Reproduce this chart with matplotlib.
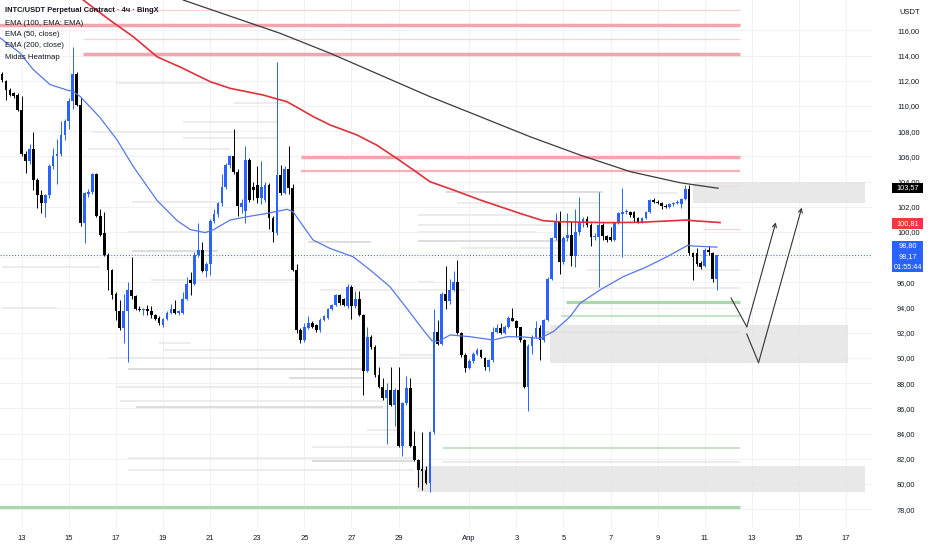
import matplotlib
matplotlib.use('Agg')
import numpy as np
import matplotlib.pyplot as plt
import matplotlib.transforms as mtransforms
from matplotlib.patches import Rectangle

# 4h candles, index 0 = 12 Mar 04:00
opens = [112.5, 112.0, 111.3, 111.0, 110.9, 109.7, 106.2, 105.6, 106.6, 104.1,
         102.9, 102.3, 102.9, 105.2, 106.0, 106.2, 107.7, 108.8, 110.4, 112.5,
         110.1, 100.7, 103.0, 103.2, 104.6, 101.3, 99.9, 98.2, 97.0, 95.1,
         93.75, 92.35, 93.75, 95.4, 94.9, 93.9, 93.8, 93.9, 93.7, 93.4,
         93.2, 92.6, 93.1, 93.6, 93.9, 93.6, 93.6, 94.7, 96.2, 95.9,
         98.2, 98.6, 96.9, 97.5, 100.9, 101.4, 102.3, 103.6, 105.3, 106.0,
         104.8, 102.0, 101.7, 105.7, 103.6, 103.7, 102.7, 102.5, 103.7, 101.1,
         99.9, 104.5, 103.1, 105.0, 103.5, 97.0, 92.2, 91.4, 92.35, 92.75,
         92.6, 92.2, 93.05, 93.15, 93.85, 94.2, 95.0, 94.7, 94.1, 95.65,
         94.1, 94.7, 93.4, 89.0, 91.7, 90.85, 88.65, 87.7, 86.8, 87.5,
         86.3, 87.5, 83.0, 86.4, 87.6, 83.0, 81.9, 81.2, 81.1, 80.05,
         84.1, 92.1, 91.1, 95.05, 94.5, 95.4, 96.05, 91.95, 90.25, 89.2,
         89.75, 90.35, 90.6, 90.0, 89.3, 89.85, 92.1, 92.35, 92.0, 92.5,
         93.2, 92.95, 92.45, 91.4, 87.7, 90.95, 91.7, 92.4, 91.45, 93.0,
         96.3, 99.5, 100.8, 97.65, 99.5, 99.75, 98.1, 100.0, 100.8, 101.0,
         100.55, 99.6, 99.6, 100.55, 99.7, 99.6, 99.4, 100.7, 101.4, 101.55,
         101.6, 101.6, 101.1, 100.8, 101.1, 101.6, 102.55, 102.4, 102.3, 102.1,
         102.0, 102.2, 102.3, 102.2, 102.6, 103.4, 98.3, 98.3, 97.5, 97.3,
         98.6, 98.3, 96.3]
highs = [112.7, 112.1, 111.4, 111.1, 111.0, 110.8, 106.4, 107.0, 107.9, 104.3,
         103.3, 103.0, 105.4, 106.7, 107.4, 108.8, 109.0, 110.6, 114.7, 112.7,
         110.6, 103.2, 103.4, 104.7, 104.7, 101.8, 101.6, 98.3, 97.1, 95.2,
         94.6, 95.1, 96.0, 98.0, 95.0, 94.1, 94.0, 94.2, 94.1, 93.5,
         93.3, 93.2, 93.7, 94.3, 94.6, 93.8, 95.2, 96.4, 96.8, 98.4,
         100.7, 99.2, 97.6, 101.0, 101.8, 102.4, 104.6, 105.5, 106.1, 108.2,
         105.0, 102.6, 106.8, 105.9, 104.0, 105.2, 105.6, 104.0, 103.9, 101.3,
         113.5, 105.3, 105.2, 106.8, 103.8, 97.5, 92.4, 92.75, 93.3, 92.9,
         92.7, 93.2, 93.4, 93.95, 94.3, 95.1, 95.1, 94.8, 95.9, 95.8,
         95.3, 95.3, 93.5, 92.5, 91.8, 91.0, 89.3, 88.4, 88.0, 89.3,
         87.6, 89.3, 86.5, 88.6, 88.4, 84.2, 82.0, 84.1, 81.4, 84.2,
         93.9, 93.0, 95.2, 97.3, 96.3, 96.9, 97.8, 92.1, 90.4, 89.9,
         90.5, 90.8, 90.7, 90.1, 89.95, 92.5, 92.7, 92.75, 92.6, 93.3,
         94.0, 93.0, 92.5, 91.5, 91.1, 91.8, 92.9, 92.6, 93.1, 96.4,
         99.6, 101.5, 101.7, 99.7, 101.5, 100.9, 101.8, 102.8, 101.2, 101.3,
         100.7, 99.9, 103.2, 100.7, 99.8, 100.4, 100.8, 101.6, 103.5, 101.8,
         101.7, 101.7, 101.2, 101.2, 101.7, 102.6, 102.7, 102.5, 102.35, 102.2,
         102.3, 102.4, 102.5, 102.7, 103.75, 103.7, 98.4, 98.7, 97.7, 98.7,
         98.9, 98.4, 98.2]
lows = [111.9, 110.5, 110.8, 110.6, 109.6, 106.0, 104.7, 105.4, 103.3, 101.9,
        101.5, 101.2, 102.7, 105.0, 103.8, 106.0, 107.3, 108.2, 109.8, 110.0,
        100.5, 99.15, 102.8, 103.0, 101.2, 99.7, 98.1, 95.4, 94.7, 93.0,
        92.2, 91.2, 89.7, 94.7, 93.8, 93.7, 93.4, 93.4, 93.2, 93.0,
        92.6, 92.5, 93.0, 93.5, 93.5, 93.4, 93.5, 94.6, 95.0, 95.8,
        98.0, 96.8, 96.4, 96.6, 100.7, 101.2, 102.1, 103.4, 105.1, 104.6,
        101.3, 101.5, 100.7, 102.4, 102.5, 102.3, 102.2, 102.4, 100.2, 99.2,
        99.8, 102.9, 103.0, 103.0, 96.9, 92.0, 91.2, 91.3, 92.3, 92.4,
        92.1, 92.1, 92.9, 93.1, 93.8, 94.1, 94.2, 94.1, 94.0, 93.1,
        94.0, 93.3, 87.1, 88.9, 90.7, 88.5, 87.6, 86.7, 83.2, 86.2,
        84.6, 82.9, 82.2, 86.3, 82.9, 81.8, 79.8, 79.5, 80.0, 79.4,
        84.0, 91.0, 91.0, 93.9, 94.3, 95.3, 91.9, 90.1, 88.9, 89.1,
        89.6, 90.2, 90.0, 89.05, 89.0, 89.7, 92.0, 91.9, 91.9, 92.4,
        92.9, 91.7, 91.3, 87.6, 85.8, 90.3, 91.6, 89.85, 91.3, 92.9,
        96.2, 99.4, 96.7, 97.5, 99.3, 97.3, 97.25, 99.8, 100.4, 100.4,
        98.9, 99.4, 95.65, 99.4, 99.2, 99.3, 99.3, 100.6, 98.0, 101.4,
        101.2, 100.8, 100.7, 100.7, 101.0, 101.5, 102.3, 102.2, 101.8, 101.9,
        101.9, 102.1, 102.2, 101.9, 102.5, 98.2, 96.2, 97.3, 97.1, 97.2,
        98.2, 96.0, 95.4]
closes = [112.1, 111.3, 110.9, 110.8, 109.7, 106.2, 105.6, 106.6, 104.1, 102.9,
          102.3, 102.9, 105.2, 106.0, 106.2, 107.7, 108.8, 110.4, 112.5, 110.1,
          100.7, 103.1, 103.2, 104.6, 101.3, 99.8, 98.2, 97.0, 95.0, 93.75,
          92.35, 93.75, 95.4, 94.9, 93.9, 93.8, 93.9, 93.7, 93.4, 93.1,
          92.8, 93.1, 93.6, 93.9, 93.6, 93.7, 94.7, 95.9, 95.95, 98.2,
          98.6, 96.9, 97.5, 100.9, 101.4, 102.3, 103.6, 105.3, 106.0, 104.8,
          102.1, 102.3, 105.7, 102.5, 103.3, 102.7, 103.6, 103.7, 101.1, 100.0,
          104.5, 103.1, 105.0, 103.5, 97.0, 92.2, 91.4, 92.5, 92.75, 92.5,
          92.2, 93.05, 93.3, 93.85, 94.2, 95.0, 94.35, 94.2, 95.65, 94.1,
          94.7, 93.4, 89.0, 91.7, 90.85, 88.65, 87.7, 86.8, 87.5, 86.3,
          87.5, 83.0, 86.4, 87.6, 83.0, 81.9, 81.1, 81.05, 80.05, 84.1,
          92.1, 91.1, 95.05, 94.5, 95.4, 96.05, 91.95, 90.25, 89.2, 89.75,
          90.35, 90.6, 90.1, 89.3, 89.85, 92.1, 92.35, 92.0, 92.5, 93.2,
          92.95, 92.4, 91.4, 87.7, 90.95, 91.7, 92.4, 91.45, 93.0, 96.3,
          99.5, 100.8, 97.65, 99.5, 99.75, 98.1, 100.0, 100.8, 101.0, 100.55,
          99.6, 99.7, 100.55, 99.7, 99.4, 99.4, 100.7, 101.5, 101.6, 101.65,
          101.35, 101.1, 100.8, 101.1, 101.6, 102.5, 102.4, 102.3, 102.05, 102.0,
          102.2, 102.3, 102.4, 102.6, 103.4, 98.3, 98.05, 97.5, 97.25, 98.55,
          98.4, 96.3, 98.17]

# EMA lines (candle index, price)
ema50_idx = [-0.5, 4.6, 7.9, 12.2, 16.5, 18.1, 19.9, 24.9, 29.3, 33.4, 39.5, 44.6,
             47.9, 51.7, 53.7, 58.1, 62.4, 67.5, 72.6, 74.1, 79.2, 83.5, 89.4, 93.7,
             98.8, 103.1, 107.3, 109.5, 111.1, 114.1, 119.2, 125.1, 128.6, 131.9,
             137.0, 140.4, 144.7, 147.2, 152.3, 158.2, 164.3, 169.4, 174.8, 175.8, 182.1]
ema50_val = [115.4, 114.2, 112.9, 111.7, 111.27, 111.15, 110.75, 109.1, 107.3, 105.2,
             102.5, 100.9, 100.2, 99.95, 100.16, 100.95, 101.21, 101.48, 101.8, 101.61,
             99.37, 98.7, 98.04, 97.0, 95.66, 93.94, 92.22, 91.37, 91.3, 91.83, 91.69,
             91.43, 91.69, 91.69, 91.56, 92.09, 93.28, 94.34, 95.4, 96.45, 97.25, 98.04,
             98.97, 98.89, 98.8]
ema100_idx = [20.7, 27.5, 33.4, 39.5, 45.3, 53.0, 58.1, 66.5, 70.0, 72.6, 79.3, 83.6,
              90.4, 95.4, 100.5, 104.8, 109.0, 115.0, 121.8, 131.9, 137.8, 141.4,
              154.1, 162.5, 174.5, 175.8, 182.9]
ema100_val = [118.4, 116.8, 115.5, 113.9, 113.1, 111.93, 111.4, 110.87, 110.56, 110.34,
              109.15, 108.49, 107.7, 106.9, 105.85, 104.92, 103.99, 103.33, 102.54,
              101.48, 100.9, 100.82, 100.74, 100.77, 100.95, 100.9, 100.75]
ema200_idx = [46.2, 70.8, 83.6, 96.3, 109.0, 121.8, 134.5, 147.2, 160.0, 172.7, 182.4]
ema200_val = [118.4, 115.77, 114.18, 112.46, 110.74, 109.15, 107.56, 106.11, 104.79,
              103.91, 103.47]

# Midas heatmap: gray levels (price, from, to, strength)
hm_price = [111.85, 107.96, 106.56, 110.21, 108.76, 107.43, 102.4, 100.03, 98.52, 99.23,
            97.25, 96.19, 95.4, 93.94, 91.17, 90.63, 89.97, 90.24, 89.1, 88.39,
            87.67, 86.61, 86.14, 84.29, 82.96, 82.09, 81.85, 81.11, 103.2, 102.33,
            101.35, 100.56, 100.03, 99.31, 98.7, 96.98, 95.56, 96.06, 87.99, 92.09,
            81.72, 103.1]
hm_start = [29, 23, 22, 59, 46, 46, 33, 32, 33, 78,
            0, 38, 81, 0, 40, 41, 27, 101, 32, 73,
            29, 30, 34, 93, 79, 32, 79, 32, 113, 116,
            106, 106, 106, 106, 117, 149, 142, 106, 119, 137,
            112, 165]
hm_end = [56, 60, 58, 73, 70, 70, 56, 70, 55, 94,
          25, 76, 118, 14, 48, 92, 110, 110, 92, 92,
          92, 97, 97, 101, 105, 105, 105, 105, 153, 152,
          133, 149, 136, 144, 142, 188, 188, 110, 133, 188,
          188, 172]
hm_strength = [1, 1, 1, 1, 1, 1, 1, 1, 2, 2,
               1, 1, 1, 1, 1, 1, 1, 1, 2, 2,
               1, 1, 2, 1, 1, 1, 2, 1, 2, 1,
               1, 1, 1, 2, 1, 1, 1, 1, 1, 2,
               1, 1]

red_price = [117.62, 116.43, 115.29, 114.13, 105.98, 104.84, 103.67, 100.24]
red_start = [20.6, -1, 20.6, 20.6, 76.1, 76.1, 176, 178.6]
red_end = [188, 188, 188, 188, 188, 188, 188, 188]
red_weight = [1, 3, 1, 3, 3, 2, 1, 1]

green_price = [94.42, 93.33, 82.83, 78.15]
green_start = [143.7, 142.3, 112.3, -1]
green_end = [188, 188, 188, 188]
green_weight = [3, 2, 2, 3]

box_top = [104.0, 92.6, 81.43]
box_bottom = [102.28, 89.63, 79.39]
box_start = [176, 139.6, 105.6]
box_end = [219.9, 215.5, 219.9]

# hand-drawn projection paths
path_a_x = [185.7, 189.7, 197.1]
path_a_y = [94.76, 92.48, 100.77]
path_b_x = [189.7, 192.7, 203.7]
path_b_y = [91.9, 89.63, 101.93]

date_idx = [5, 17, 29, 41, 53, 65, 77, 89, 101, 119, 131, 143, 155, 167, 179, 191, 203, 215]
date_lbl = ['13', '15', '17', '19', '21', '23', '25', '27', '29', 'Апр',
            '3', '5', '7', '9', '11', '13', '15', '17']
price_ticks = list(range(78, 118, 2))

label_vals = [103.57, 100.81, 98.80, 98.17]
label_cols = ['#000000', '#f23645', '#2962ff', '#2962ff']
countdown = '01:55:44'

plt.rcParams['font.family'] = ['Liberation Sans', 'DejaVu Sans']

fig = plt.figure(figsize=(9.32, 5.5), dpi=100)
ax = fig.add_axes([0, 23 / 550, 872 / 932, 527 / 550])
ax.set_xlim(-0.53, 221.6)
ax.set_ylim(76.59, 118.41)
for s in ax.spines.values():
    s.set_visible(False)

grid_c = '#f0f2f5'
for v in price_ticks:
    ax.axhline(v, color=grid_c, lw=0.8, zorder=0)
for v in date_idx:
    ax.axvline(v, color=grid_c, lw=0.8, zorder=0)

# heatmap
hm_cols = {1: '#ebebeb', 2: '#dadada'}
for p, a, b, s in zip(hm_price, hm_start, hm_end, hm_strength):
    ax.hlines(p, a, b, color=hm_cols[s], lw=1.3, zorder=1)

red_style = {1: ('#f9d2d6', 0.9), 2: ('#f5b2b9', 1.7), 3: ('#f3a5ae', 2.5)}
for p, a, b, w in zip(red_price, red_start, red_end, red_weight):
    c, lw = red_style[w]
    ax.hlines(p, a, b, color=c, lw=lw, zorder=1.2)

green_style = {2: ('#c3e4c4', 1.5), 3: ('#a9d8ab', 2.3)}
for p, a, b, w in zip(green_price, green_start, green_end, green_weight):
    c, lw = green_style[w]
    ax.hlines(p, a, b, color=c, lw=lw, zorder=1.2)

for t, bt, a, b in zip(box_top, box_bottom, box_start, box_end):
    ax.add_patch(Rectangle((a, bt), b - a, t - bt, facecolor='#e3e3e3', alpha=0.8,
                           edgecolor='none', zorder=1.5))

# last price dotted line
ax.axhline(label_vals[3], color='#2962ff', lw=0.7, ls=(0, (1, 2)), zorder=3)

# candles
o = np.array(opens)
h = np.array(highs)
l = np.array(lows)
c = np.array(closes)
idx = np.arange(len(c))
cols = np.where(c >= o, '#2962ff', '#000000')
ax.vlines(idx, l, h, colors=cols, lw=0.7, zorder=4)
ax.bar(idx, np.maximum(np.abs(c - o), 0.07), bottom=np.minimum(o, c), width=0.7,
       color=cols, lw=0, zorder=5)

ax.plot(ema200_idx, ema200_val, color='#3a3a3a', lw=0.9, zorder=6)
ax.plot(ema100_idx, ema100_val, color='#e0303a', lw=1.2, zorder=6)
ax.plot(ema50_idx, ema50_val, color='#5577e8', lw=0.9, zorder=6)

for px, py in ((path_a_x, path_a_y), (path_b_x, path_b_y)):
    ax.plot(px[:2], py[:2], color='#333333', lw=0.8, zorder=7)
    ax.annotate('', xy=(px[2], py[2]), xytext=(px[1], py[1]),
                arrowprops=dict(arrowstyle='->', color='#333333', lw=0.8,
                                shrinkA=0, shrinkB=0, mutation_scale=7), zorder=7)

ax.set_xticks(date_idx)
ax.set_xticklabels(date_lbl)
ax.yaxis.tick_right()
ax.set_yticks(price_ticks)
ax.set_yticklabels([f'{v:.2f}'.replace('.', ',') for v in price_ticks])
ax.tick_params(axis='x', length=0, pad=6, labelsize=5.5, labelcolor='#131722')
ax.tick_params(axis='y', length=0, pad=18, labelsize=5.3, labelcolor='#131722')

# price labels on the scale (stacked like the price scale does)
trans = mtransforms.blended_transform_factory(fig.transFigure, ax.transData)
x0, x1 = 892 / 932, 923 / 932
label_pos = [label_vals[0] - 0.08, label_vals[1] - 0.15, label_vals[2] + 0.1,
             label_vals[3] - 0.13, label_vals[3] - 0.95]
label_txt = [f'{v:.2f}'.replace('.', ',') for v in label_vals] + [countdown]
label_bg = label_cols + [label_cols[3]]
for yy, txt, col in zip(label_pos, label_txt, label_bg):
    ax.add_patch(Rectangle((x0, yy - 0.42), x1 - x0, 0.84, transform=trans,
                           facecolor=col, edgecolor='none', clip_on=False, zorder=10))
    ax.text((x0 + x1) / 2, yy, txt, transform=trans, ha='center', va='center',
            color='white', fontsize=5.3, zorder=11, clip_on=False)

fig.text(910 / 932, 1 - 12 / 550, 'USDT', ha='center', va='center', fontsize=5.5,
         color='#131722')

legend = ['INTC/USDT Perpetual Contract · 4ч · BingX', 'EMA (100, EMA: EMA)',
          'EMA (50, close)', 'EMA (200, close)', 'Midas Heatmap']
legend_y = [11, 23.3, 34.5, 45.7, 57.3]
for i, (txt, yy) in enumerate(zip(legend, legend_y)):
    fig.text(5 / 932, 1 - yy / 550, txt, ha='left', va='center',
             fontsize=5.4 if i == 0 else 5.6, color='#131722',
             fontweight='bold' if i == 0 else 'normal', zorder=12)

fig.savefig('out.png', dpi=100)
